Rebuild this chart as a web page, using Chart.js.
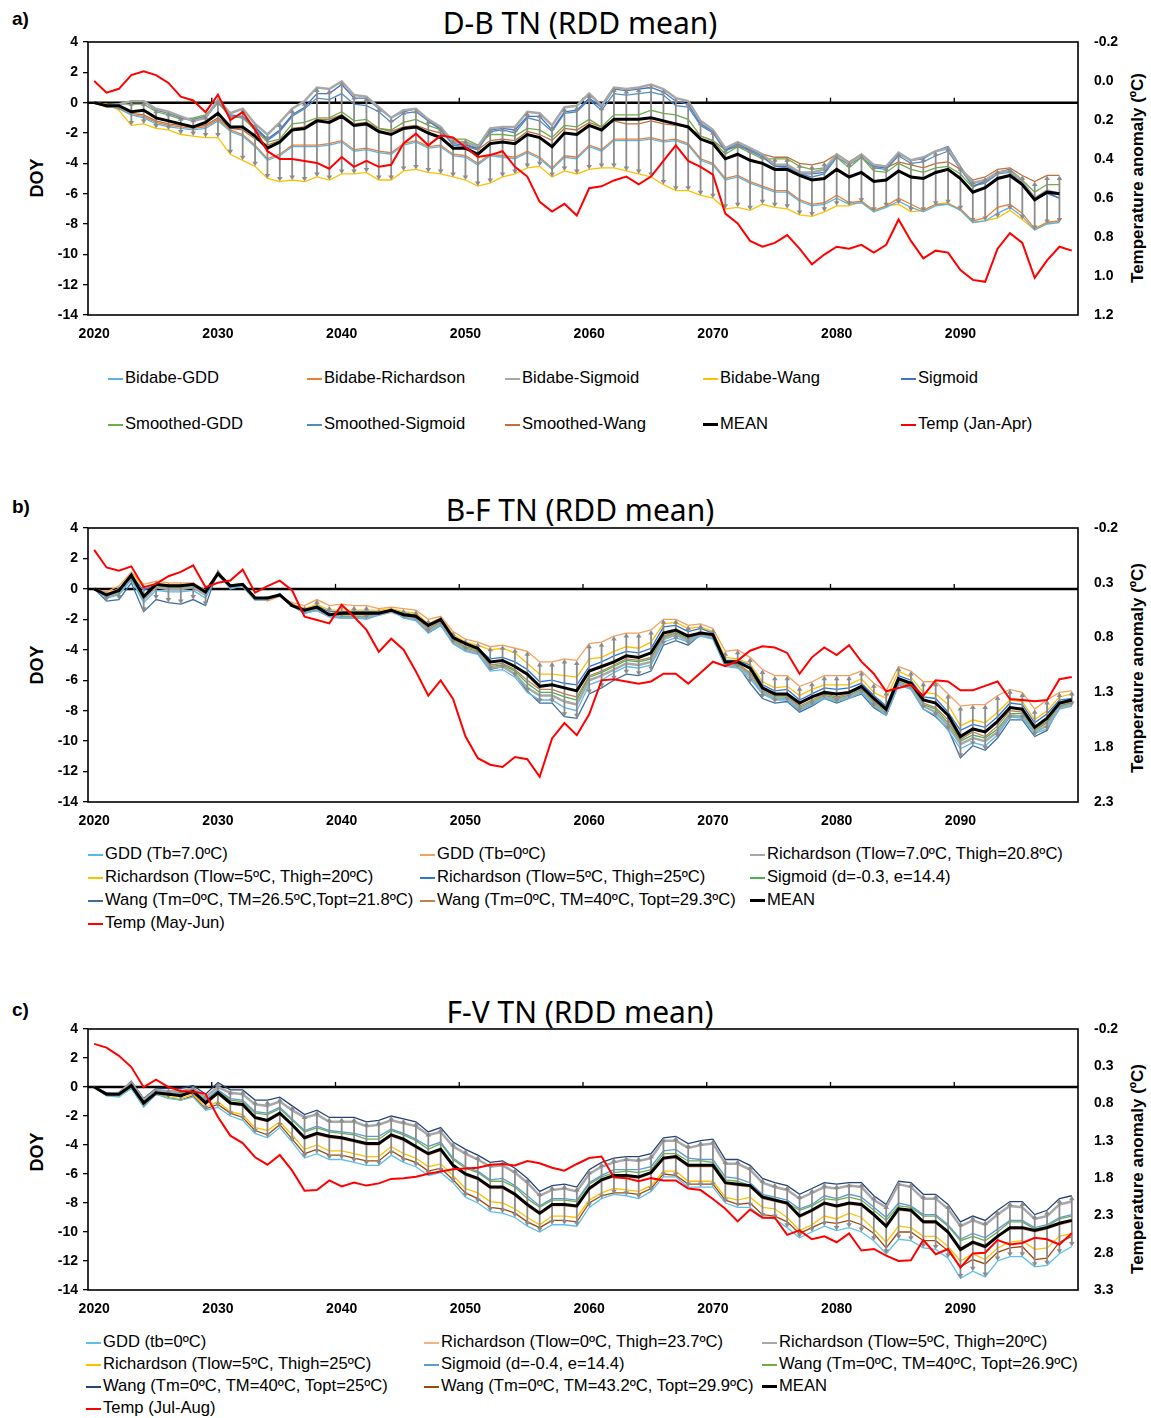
<!DOCTYPE html>
<html>
<head>
<meta charset="utf-8">
<title>RDD mean</title>
<script src="https://cdn.jsdelivr.net/npm/chart.js@4.4.1/dist/chart.umd.min.js"></script>
<style>
  body { margin: 0; background: #fff; }
  #page { position: relative; width: 1151px; height: 1418px; overflow: hidden; font-family: "Liberation Sans", Arial, sans-serif; color: #000; }
  canvas { position: absolute; left: 40px; }
  .tag { position: absolute; left: 12px; font-weight: bold; font-size: 19px; }
  .title { position: absolute; left: 280px; width: 600px; text-align: center; font-family: "Noto Sans", sans-serif; font-size: 30px; line-height: 34px; }
  .rot { position: absolute; white-space: nowrap; font-weight: bold; transform: translate(-50%, -50%) rotate(-90deg); }
  .doy { font-size: 18px; }
  .tmp { font-size: 17px; }
  .leg { position: absolute; white-space: nowrap; font-size: 16.6px; line-height: 18px; transform: translateY(-50%); }
  .leg i { display: inline-block; width: 15px; height: 2px; vertical-align: middle; margin-right: 2px; }
</style>
</head>
<body>
<div id="page">
  <div class="tag" style="top:8px">a)</div>
  <div class="title" style="top:6px">D-B TN (RDD mean)</div>
  <div class="rot doy" style="left:37px;top:178px">DOY</div>
  <div class="rot tmp" style="left:1138px;top:178px">Temperature anomaly (ºC)</div>
  <canvas id="chartA" width="1090" height="329" style="top:16px"></canvas>

  <div class="tag" style="top:496px">b)</div>
  <div class="title" style="top:493px">B-F TN (RDD mean)</div>
  <div class="rot doy" style="left:37px;top:665px">DOY</div>
  <div class="rot tmp" style="left:1138px;top:668px">Temperature anomaly (ºC)</div>
  <canvas id="chartB" width="1090" height="330" style="top:502px"></canvas>

  <div class="tag" style="top:999px">c)</div>
  <div class="title" style="top:995px">F-V TN (RDD mean)</div>
  <div class="rot doy" style="left:37px;top:1152px">DOY</div>
  <div class="rot tmp" style="left:1138px;top:1169px">Temperature anomaly (ºC)</div>
  <canvas id="chartC" width="1090" height="317" style="top:1003px"></canvas>
</div>

<script>
'use strict';

const years = [
  2020, 2021, 2022, 2023, 2024, 2025, 2026, 2027, 2028, 2029,
  2030, 2031, 2032, 2033, 2034, 2035, 2036, 2037, 2038, 2039,
  2040, 2041, 2042, 2043, 2044, 2045, 2046, 2047, 2048, 2049,
  2050, 2051, 2052, 2053, 2054, 2055, 2056, 2057, 2058, 2059,
  2060, 2061, 2062, 2063, 2064, 2065, 2066, 2067, 2068, 2069,
  2070, 2071, 2072, 2073, 2074, 2075, 2076, 2077, 2078, 2079,
  2080, 2081, 2082, 2083, 2084, 2085, 2086, 2087, 2088, 2089,
  2090, 2091, 2092, 2093, 2094, 2095, 2096, 2097, 2098, 2099
];

// Left axis (DOY) and right axes (temperature anomaly, reversed): min, max, step
const doyTicks = [-14, 4, 2];
const aTempTicks = [-0.2, 1.2, 0.2];
const bTempTicks = [-0.2, 2.3, 0.5];
const cTempTicks = [-0.2, 3.3, 0.5];

// ---- a) D-B TN ----
const aBidabeGDD = [
  0, -0.2, -0.4, -0.8, -1.0, -1.4, -1.6, -1.7, -1.8, -1.7,
  -1.2, -1.9, -2.2, -2.9, -3.8, -3.5, -2.9, -2.9, -2.9, -2.8,
  -2.6, -3.2, -3.1, -3.3, -3.4, -2.8, -2.6, -3.0, -2.9, -3.5,
  -3.6, -4.1, -3.5, -3.6, -3.7, -3.3, -3.7, -4.4, -3.6, -3.7,
  -2.9, -3.2, -2.5, -2.5, -2.5, -2.4, -2.6, -2.5, -2.8, -3.8,
  -4.1, -5.1, -4.9, -5.3, -5.6, -5.9, -5.9, -6.5, -6.8, -6.7,
  -6.3, -6.7, -6.6, -7.2, -6.9, -6.5, -6.9, -7.2, -6.8, -6.7,
  -7.1, -7.9, -7.8, -7.3, -6.9, -7.5, -8.4, -8.0, -7.9, null
];
const aBidabeRichardson = [
  0, -0.2, -0.4, -0.8, -0.9, -1.3, -1.5, -1.6, -1.7, -1.6,
  -1.1, -1.8, -2.1, -2.8, -3.7, -3.4, -2.8, -2.8, -2.8, -2.7,
  -2.5, -3.1, -3.0, -3.2, -3.3, -2.7, -2.5, -2.9, -2.8, -3.4,
  -3.5, -4.0, -3.4, -3.5, -3.6, -3.2, -3.6, -4.3, -3.5, -3.6,
  -2.8, -3.1, -2.4, -2.4, -2.4, -2.3, -2.5, -2.4, -2.7, -3.7,
  -4.0, -5.0, -4.8, -5.2, -5.5, -5.8, -5.8, -6.4, -6.7, -6.6,
  -6.1, -6.6, -6.5, -7.1, -6.8, -6.3, -6.7, -7.1, -6.7, -6.7,
  -7.0, -7.8, -7.6, -6.9, -6.7, -7.3, -8.3, -7.9, -7.8, null
];
const aBidabeSigmoid = [
  0, -0.2, -0.1, 0.1, 0.1, -0.4, -0.6, -0.9, -1.2, -1.0,
  0.2, -0.7, -0.4, -1.4, -2.1, -1.3, -0.4, 0.1, 1.0, 0.9,
  1.4, 0.5, 0.4, -0.3, -1.0, -0.5, -0.4, -1.1, -1.6, -2.6,
  -2.6, -2.9, -1.7, -1.6, -1.6, -0.6, -0.7, -1.5, -0.3, -0.2,
  0.6, -0.2, 1.0, 0.9, 1.0, 1.2, 0.9, 0.3, 0.1, -1.2,
  -1.8, -3.0, -2.6, -3.0, -3.4, -4.1, -4.1, -4.6, -4.6, -4.4,
  -3.4, -4.0, -3.4, -4.1, -4.2, -3.3, -3.8, -3.6, -3.2, -3.0,
  -4.3, -5.3, -5.1, -4.6, -4.5, -5.2, -6.3, -5.8, -6.0, null
];
const aBidabeWang = [
  0, -0.1, -0.5, -1.5, -1.4, -1.7, -1.8, -2.1, -2.2, -2.3,
  -2.3, -3.4, -3.8, -4.2, -5.0, -5.2, -5.1, -5.2, -4.9, -5.1,
  -4.7, -4.7, -4.6, -5.1, -5.1, -4.5, -4.4, -4.6, -4.7, -4.9,
  -5.1, -5.5, -5.3, -4.9, -4.7, -4.3, -4.2, -4.9, -4.5, -4.7,
  -4.4, -4.3, -4.3, -4.5, -4.7, -4.9, -5.4, -5.8, -5.8, -6.1,
  -6.3, -7.0, -6.9, -7.1, -6.7, -6.9, -7.0, -7.4, -7.5, -7.2,
  -6.8, -6.8, -6.5, -7.2, -6.8, -6.7, -7.2, -7.1, -6.7, -6.6,
  -7.1, -7.9, -7.8, -7.6, -7.1, -7.7, -8.4, -7.9, -7.8, null
];
const aSigmoid = [
  0, -0.2, -0.1, 0.1, 0.1, -0.5, -0.6, -1.0, -1.1, -0.9,
  0.1, -0.8, -0.9, -1.6, -2.4, -1.8, -0.8, -0.3, 0.6, 0.6,
  1.2, 0.3, 0.3, -0.4, -1.0, -0.6, -0.4, -1.2, -1.7, -2.7,
  -2.8, -3.0, -1.8, -1.7, -1.8, -0.9, -0.9, -1.8, -0.6, -0.5,
  0.3, -0.3, 0.9, 0.8, 0.9, 1.0, 0.7, 0.1, -0.1, -1.4,
  -1.9, -3.1, -2.7, -3.1, -3.5, -4.2, -4.2, -4.7, -4.7, -4.6,
  -3.4, -4.0, -3.4, -4.2, -4.3, -3.4, -3.8, -3.7, -3.2, -2.9,
  -4.2, -5.5, -5.2, -4.6, -4.4, -5.2, -6.3, -5.9, -6.3, null
];
const aSmoothedGDD = [
  0, -0.1, -0.1, -0.1, -0.1, -0.6, -0.8, -1.1, -1.0, -0.8,
  0.0, -0.9, -1.0, -1.8, -2.6, -2.4, -1.4, -1.3, -1.0, -1.0,
  -0.6, -1.2, -1.1, -1.7, -1.8, -1.3, -1.1, -1.5, -1.8, -2.4,
  -2.4, -2.8, -2.1, -2.1, -2.2, -1.7, -1.8, -2.3, -1.5, -1.6,
  -1.1, -1.6, -0.8, -0.8, -0.8, -0.5, -0.7, -0.8, -1.1, -2.2,
  -2.5, -3.4, -2.9, -3.3, -3.7, -3.7, -3.7, -4.2, -4.4, -4.3,
  -3.6, -4.3, -3.6, -4.5, -4.6, -4.0, -4.4, -4.6, -4.3, -4.2,
  -4.7, -5.6, -5.1, -4.6, -4.4, -5.1, -5.9, -5.4, -5.4, null
];
const aSmoothedSigmoid = [
  0, -0.2, -0.1, 0.1, 0.1, -0.5, -0.7, -1.0, -1.2, -1.0,
  0.0, -0.9, -1.0, -1.7, -2.5, -1.9, -0.9, -0.4, 0.3, 0.2,
  0.6, -0.1, -0.2, -0.6, -1.3, -0.7, -0.6, -1.2, -1.8, -2.8,
  -2.9, -3.1, -1.9, -1.8, -2.0, -1.0, -1.2, -1.9, -0.7, -0.6,
  0.2, -0.5, 0.6, 0.5, 0.6, 0.7, 0.5, -0.2, -0.3, -1.5,
  -2.0, -3.2, -2.8, -3.2, -3.6, -4.2, -4.3, -4.7, -4.9, -4.7,
  -3.6, -4.1, -3.6, -4.3, -4.4, -3.5, -4.0, -3.9, -3.5, -3.2,
  -4.4, -5.5, -5.3, -4.7, -4.6, -5.3, -6.4, -6.0, -6.3, null
];
const aSmoothedWang = [
  0, -0.3, -0.3, -0.7, -0.8, -1.2, -1.4, -1.5, -1.6, -1.5,
  -1.0, -1.7, -1.8, -2.4, -2.8, -2.5, -1.7, -1.6, -1.1, -1.1,
  -0.8, -1.4, -1.3, -1.7, -1.9, -1.6, -1.5, -1.8, -2.0, -2.5,
  -2.7, -3.1, -2.5, -2.4, -2.5, -1.9, -2.1, -2.5, -1.7, -1.8,
  -1.3, -1.6, -1.2, -1.4, -1.4, -1.2, -1.4, -1.5, -1.6, -2.2,
  -2.5, -3.1, -2.9, -3.1, -3.4, -3.6, -3.6, -4.0, -4.1, -3.9,
  -3.4, -3.9, -3.4, -4.2, -4.3, -3.9, -4.1, -4.3, -4.0, -3.9,
  -4.4, -5.1, -4.9, -4.4, -4.3, -4.8, -5.2, -4.8, -4.8, null
];
const aMean = [
  0, -0.2, -0.2, -0.6, -0.5, -1.0, -1.2, -1.4, -1.6, -1.3,
  -0.7, -1.6, -1.6, -2.2, -3.0, -2.6, -1.8, -1.7, -1.2, -1.3,
  -0.9, -1.5, -1.4, -1.9, -2.1, -1.7, -1.6, -2.0, -2.3, -3.0,
  -3.0, -3.4, -2.7, -2.6, -2.7, -2.1, -2.3, -2.9, -2.0, -2.1,
  -1.5, -1.8, -1.1, -1.1, -1.1, -1.0, -1.2, -1.4, -1.6, -2.4,
  -2.7, -3.7, -3.4, -3.8, -4.0, -4.4, -4.4, -4.8, -5.1, -5.0,
  -4.4, -4.9, -4.6, -5.2, -5.1, -4.5, -4.9, -5.0, -4.6, -4.4,
  -5.0, -5.9, -5.6, -5.0, -4.8, -5.4, -6.4, -5.9, -6.0, null
];
const aTemp = [
  0.00, 0.06, 0.04, -0.03, -0.05, -0.03, 0.01, 0.08, 0.10, 0.16,
  0.07, 0.20, 0.16, 0.25, 0.36, 0.40, 0.40, 0.41, 0.42, 0.45,
  0.39, 0.44, 0.41, 0.44, 0.43, 0.32, 0.27, 0.33, 0.28, 0.29,
  0.34, 0.39, 0.38, 0.36, 0.44, 0.49, 0.62, 0.67, 0.63, 0.69,
  0.55, 0.54, 0.51, 0.49, 0.53, 0.49, 0.41, 0.33, 0.41, 0.44,
  0.48, 0.68, 0.73, 0.82, 0.85, 0.83, 0.79, 0.86, 0.94, 0.89,
  0.85, 0.86, 0.84, 0.88, 0.84, 0.71, 0.82, 0.91, 0.87, 0.88,
  0.97, 1.02, 1.03, 0.86, 0.78, 0.83, 1.01, 0.92, 0.85, 0.87
];

// ---- b) B-F TN ----
const bGDD7 = [
  0, -0.6, -0.4, 0.6, -0.9, -0.1, -0.2, -0.2, -0.1, -0.6,
  1.0, 0.0, 0.2, -0.7, -0.7, -0.3, -1.1, -1.6, -1.4, -1.8,
  -1.9, -1.9, -2.0, -1.7, -1.4, -1.9, -2.1, -2.9, -2.4, -3.6,
  -4.1, -4.3, -5.4, -5.3, -5.8, -6.8, -7.3, -7.3, -7.8, -8.0,
  -6.3, -6.0, -5.5, -5.1, -5.2, -5.0, -3.5, -3.2, -3.5, -3.1,
  -3.3, -5.1, -5.2, -5.9, -6.9, -7.3, -7.3, -8.0, -7.6, -7.2,
  -7.4, -7.2, -6.8, -7.7, -8.3, -6.3, -6.6, -7.9, -8.3, -9.3,
  -10.5, -10.1, -10.3, -9.6, -8.4, -8.5, -9.5, -9.2, -7.9, -7.7
];
const bGDD0 = [
  0, -0.2, 0.2, 1.1, 0.3, 0.5, 0.4, 0.4, 0.4, -0.1,
  1.1, 0.2, 0.3, -0.5, -0.8, -0.5, -0.9, -1.1, -0.7, -1.1,
  -1.0, -1.1, -1.1, -1.3, -1.2, -1.3, -1.4, -2.0, -1.8, -2.8,
  -3.3, -3.5, -3.8, -3.7, -3.9, -4.1, -4.8, -4.8, -4.6, -4.7,
  -3.6, -3.5, -3.1, -2.9, -2.9, -2.7, -2.0, -2.0, -2.4, -2.3,
  -2.6, -4.1, -4.0, -4.5, -5.3, -5.7, -5.7, -6.4, -6.1, -5.7,
  -5.7, -5.7, -5.4, -6.2, -6.7, -5.1, -5.4, -6.1, -6.1, -6.9,
  -7.7, -7.6, -7.6, -7.0, -6.6, -6.8, -7.9, -7.3, -6.8, -6.7
];
const bRich7 = [
  0, -0.5, -0.3, 0.7, -0.7, 0.1, 0.0, 0.0, 0.1, -0.4,
  1.0, 0.1, 0.2, -0.7, -0.7, -0.4, -1.1, -1.5, -1.4, -1.8,
  -1.9, -1.9, -1.9, -1.7, -1.5, -1.8, -2.0, -2.8, -2.3, -3.5,
  -4.0, -4.2, -5.2, -5.1, -5.6, -6.5, -7.0, -7.0, -7.4, -7.6,
  -6.0, -5.7, -5.3, -4.9, -5.0, -4.8, -3.3, -3.0, -3.4, -3.0,
  -3.2, -5.0, -5.1, -5.7, -6.8, -7.2, -7.2, -7.9, -7.5, -7.1,
  -7.3, -7.1, -6.7, -7.6, -8.2, -6.2, -6.5, -7.7, -8.1, -9.0,
  -10.2, -9.8, -10.0, -9.4, -8.3, -8.4, -9.4, -9.0, -7.8, -7.6
];
const bRich520 = [
  0, -0.3, 0.0, 1.0, 0.1, 0.3, 0.3, 0.3, 0.3, -0.1,
  1.0, 0.1, 0.3, -0.6, -0.7, -0.4, -1.0, -1.3, -1.0, -1.4,
  -1.4, -1.4, -1.4, -1.4, -1.3, -1.5, -1.6, -2.3, -1.9, -3.0,
  -3.5, -3.7, -4.0, -3.9, -4.2, -4.9, -5.6, -5.6, -5.7, -5.8,
  -4.6, -4.5, -4.1, -3.8, -3.9, -3.5, -2.3, -2.2, -2.6, -2.5,
  -2.8, -4.5, -4.6, -4.9, -6.1, -6.5, -6.4, -7.0, -6.6, -6.3,
  -6.3, -6.3, -5.9, -6.8, -7.2, -5.4, -5.8, -6.8, -6.9, -7.6,
  -9.0, -8.6, -8.8, -8.1, -7.3, -7.4, -8.6, -8.0, -7.1, -6.9
];
const bRich525 = [
  0, -0.3, -0.1, 0.9, -0.1, 0.3, 0.2, 0.2, 0.3, -0.2,
  1.0, 0.1, 0.2, -0.6, -0.6, -0.4, -1.0, -1.4, -1.1, -1.5,
  -1.5, -1.5, -1.5, -1.5, -1.4, -1.6, -1.7, -2.4, -2.0, -3.1,
  -3.6, -3.9, -4.6, -4.5, -4.8, -5.3, -6.1, -6.0, -6.2, -6.3,
  -5.1, -4.8, -4.4, -4.1, -4.2, -3.9, -2.5, -2.4, -2.8, -2.6,
  -2.9, -4.7, -4.7, -5.0, -6.3, -6.7, -6.6, -7.3, -6.9, -6.5,
  -6.6, -6.5, -6.2, -7.0, -7.7, -5.7, -6.0, -7.1, -7.2, -8.1,
  -9.3, -8.9, -9.1, -8.4, -7.5, -7.6, -8.8, -8.2, -7.3, -7.2
];
const bSigmoid = [
  0, -0.4, -0.2, 0.8, -0.6, 0.2, 0.1, 0.1, 0.2, -0.3,
  1.0, 0.1, 0.2, -0.6, -0.6, -0.4, -1.1, -1.5, -1.4, -1.8,
  -1.8, -1.8, -1.8, -1.7, -1.5, -1.8, -2.0, -2.7, -2.2, -3.4,
  -3.9, -4.1, -5.1, -5.0, -5.4, -6.2, -6.8, -6.8, -7.1, -7.3,
  -5.8, -5.5, -5.1, -4.7, -4.8, -4.6, -3.2, -2.9, -3.3, -3.0,
  -3.2, -5.0, -5.0, -5.6, -6.7, -7.1, -7.1, -7.8, -7.4, -7.0,
  -7.2, -7.0, -6.6, -7.5, -8.1, -6.1, -6.4, -7.6, -7.9, -8.8,
  -10.0, -9.6, -9.8, -9.2, -8.2, -8.2, -9.3, -8.8, -7.7, -7.5
];
const bWang265 = [
  0, -0.8, -0.7, 0.4, -1.5, -0.7, -0.9, -1.0, -0.7, -1.1,
  1.2, 0.0, 0.2, -0.7, -0.7, -0.3, -1.1, -1.6, -1.4, -1.8,
  -1.9, -1.9, -1.9, -1.7, -1.3, -1.9, -2.0, -2.9, -2.4, -3.5,
  -4.0, -4.2, -5.3, -5.1, -5.6, -6.7, -7.5, -7.5, -8.4, -8.5,
  -6.9, -6.5, -6.0, -5.6, -5.7, -5.4, -3.7, -3.4, -3.7, -3.0,
  -3.2, -5.0, -5.0, -6.2, -7.2, -7.5, -7.4, -8.1, -7.7, -7.2,
  -7.5, -7.2, -6.9, -7.8, -8.3, -6.3, -6.5, -7.9, -8.4, -9.2,
  -11.1, -10.3, -10.6, -9.8, -8.6, -8.6, -9.7, -9.3, -7.7, -7.5
];
const bWang40 = [
  0, -0.4, -0.2, 0.8, -0.6, 0.2, 0.1, 0.1, 0.2, -0.3,
  1.0, 0.1, 0.2, -0.6, -0.6, -0.4, -1.1, -1.5, -1.3, -1.7,
  -1.7, -1.7, -1.7, -1.6, -1.5, -1.8, -1.9, -2.6, -2.1, -3.3,
  -3.8, -4.0, -5.0, -4.9, -5.3, -6.0, -6.6, -6.6, -6.9, -7.1,
  -5.7, -5.4, -5.0, -4.6, -4.7, -4.5, -3.1, -2.8, -3.2, -2.9,
  -3.1, -4.9, -4.9, -5.5, -6.6, -7.0, -7.0, -7.7, -7.3, -6.9,
  -7.1, -6.9, -6.5, -7.4, -8.0, -6.0, -6.3, -7.5, -7.8, -8.6,
  -9.9, -9.4, -9.7, -9.0, -8.0, -8.1, -9.2, -8.7, -7.6, -7.4
];
const bMean = [
  0, -0.4, -0.1, 0.9, -0.5, 0.3, 0.2, 0.2, 0.3, -0.2,
  1.0, 0.2, 0.3, -0.6, -0.6, -0.4, -1.1, -1.4, -1.2, -1.7,
  -1.6, -1.6, -1.6, -1.6, -1.4, -1.7, -1.8, -2.4, -2.0, -3.2,
  -3.6, -3.9, -4.8, -4.7, -5.1, -5.6, -6.4, -6.3, -6.5, -6.7,
  -5.4, -5.1, -4.8, -4.4, -4.5, -4.2, -2.9, -2.7, -3.1, -2.9,
  -3.0, -4.8, -4.8, -5.2, -6.5, -6.9, -6.9, -7.5, -7.1, -6.8,
  -6.9, -6.8, -6.4, -7.2, -7.9, -5.9, -6.2, -7.3, -7.5, -8.3,
  -9.7, -9.2, -9.4, -8.7, -7.8, -7.9, -9.1, -8.5, -7.5, -7.3
];
const bTemp = [
  0.00, 0.16, 0.19, 0.15, 0.34, 0.31, 0.24, 0.20, 0.14, 0.34,
  0.30, 0.28, 0.18, 0.39, 0.33, 0.28, 0.37, 0.61, 0.64, 0.67,
  0.50, 0.61, 0.73, 0.93, 0.81, 0.91, 1.11, 1.33, 1.19, 1.36,
  1.70, 1.90, 1.96, 1.98, 1.89, 1.91, 2.07, 1.72, 1.58, 1.69,
  1.50, 1.19, 1.18, 1.20, 1.22, 1.20, 1.13, 1.13, 1.22, 1.12,
  1.02, 1.06, 1.01, 0.92, 0.88, 0.89, 0.94, 1.13, 0.98, 0.89,
  0.96, 0.87, 1.02, 1.13, 1.29, 1.26, 1.23, 1.33, 1.19, 1.20,
  1.28, 1.28, 1.24, 1.20, 1.36, 1.37, 1.38, 1.37, 1.18, 1.16
];

// ---- c) F-V TN ----
const cGDD0 = [
  0, -0.6, -0.7, -0.1, -1.4, -0.5, -0.8, -0.9, -0.7, -1.6,
  -1.4, -2.0, -2.3, -3.2, -3.5, -2.8, -3.8, -4.9, -4.6, -5.0,
  -5.0, -5.2, -5.4, -5.4, -4.7, -5.2, -5.5, -6.1, -5.9, -6.6,
  -7.6, -8.0, -8.6, -8.7, -9.0, -9.6, -10.0, -9.5, -9.5, -9.6,
  -8.3, -7.7, -7.4, -7.5, -7.7, -7.2, -6.2, -6.2, -6.9, -6.9,
  -6.9, -8.0, -8.3, -8.3, -9.0, -9.1, -9.7, -10.4, -10.0, -9.6,
  -9.9, -9.7, -10.0, -10.6, -11.5, -10.5, -10.6, -11.1, -11.2, -11.8,
  -13.2, -12.7, -13.1, -12.0, -11.7, -11.7, -12.4, -12.3, -11.5, -11.0
];
const cRich0 = [
  0, -0.5, -0.6, 0.0, -1.1, -0.4, -0.5, -0.6, -0.4, -1.2,
  -0.5, -1.2, -1.3, -2.2, -2.4, -1.9, -2.7, -3.6, -3.3, -3.5,
  -3.6, -3.8, -4.0, -4.0, -3.4, -3.7, -4.2, -4.7, -4.4, -5.5,
  -6.1, -6.4, -7.0, -7.0, -7.5, -8.2, -8.8, -8.2, -8.2, -8.3,
  -7.1, -6.5, -6.2, -6.2, -6.3, -6.0, -5.0, -4.9, -5.5, -5.5,
  -5.5, -6.7, -6.8, -6.9, -7.7, -7.9, -8.1, -9.0, -8.6, -8.1,
  -8.3, -8.1, -8.2, -8.9, -9.6, -8.5, -8.6, -9.4, -9.4, -10.0,
  -11.3, -10.8, -11.1, -10.3, -9.8, -9.8, -10.0, -9.8, -9.5, -9.3
];
const cRich520 = [
  0, -0.5, -0.4, 0.3, -0.9, -0.2, -0.3, -0.3, -0.1, -0.7,
  0.0, -0.4, -0.5, -1.2, -1.3, -1.0, -1.6, -2.1, -1.9, -2.4,
  -2.4, -2.4, -2.7, -2.6, -2.3, -2.5, -2.7, -3.3, -3.1, -4.1,
  -4.6, -5.0, -5.5, -5.4, -5.9, -6.6, -7.5, -7.1, -7.0, -7.2,
  -6.0, -5.5, -5.2, -5.0, -5.1, -4.9, -3.7, -3.7, -4.2, -4.0,
  -3.9, -5.3, -5.3, -5.7, -6.6, -6.9, -7.1, -7.7, -7.3, -6.9,
  -7.0, -6.8, -6.9, -7.8, -8.3, -6.7, -6.9, -7.7, -7.7, -8.4,
  -9.6, -9.2, -9.5, -8.8, -8.2, -8.3, -9.1, -8.9, -8.1, -7.9
];
const cRich525 = [
  0, -0.6, -0.6, 0.0, -1.3, -0.5, -0.7, -0.8, -0.5, -1.4,
  -1.0, -1.7, -1.9, -2.8, -3.0, -2.4, -3.3, -4.3, -4.0, -4.4,
  -4.4, -4.6, -4.8, -4.8, -4.1, -4.6, -4.9, -5.5, -5.3, -6.1,
  -7.0, -7.3, -7.9, -8.0, -8.4, -9.0, -9.5, -8.9, -8.9, -9.0,
  -7.8, -7.3, -7.0, -7.1, -7.2, -6.8, -5.8, -5.8, -6.5, -6.5,
  -6.5, -7.6, -7.8, -7.6, -8.3, -8.4, -9.0, -9.9, -9.5, -8.9,
  -9.1, -8.7, -9.0, -9.8, -10.7, -9.6, -9.7, -10.3, -10.3, -11.0,
  -12.0, -11.5, -11.9, -11.1, -10.7, -10.6, -11.2, -11.1, -10.3, -10.1
];
const cSigmoid = [
  0, -0.5, -0.5, 0.2, -1.0, -0.3, -0.4, -0.4, -0.2, -0.9,
  -0.2, -0.8, -0.9, -1.7, -1.8, -1.4, -2.2, -3.0, -2.7, -3.0,
  -3.1, -3.2, -3.4, -3.4, -2.9, -3.2, -3.6, -4.1, -3.8, -4.9,
  -5.5, -5.8, -6.4, -6.3, -6.8, -7.5, -8.2, -7.7, -7.7, -7.8,
  -6.6, -6.1, -5.7, -5.7, -5.7, -5.5, -4.4, -4.3, -4.9, -5.0,
  -5.0, -6.2, -6.3, -6.6, -7.4, -7.6, -7.8, -8.4, -8.1, -7.5,
  -7.7, -7.4, -7.6, -8.3, -9.0, -8.0, -8.2, -8.8, -8.8, -9.5,
  -10.5, -10.1, -10.4, -9.8, -9.2, -9.2, -9.7, -9.5, -9.0, -8.8
];
const cWang269 = [
  0, -0.5, -0.5, 0.2, -1.0, -0.3, -0.4, -0.5, -0.2, -1.0,
  -0.3, -0.9, -1.0, -1.8, -1.9, -1.5, -2.3, -3.1, -2.8, -3.1,
  -3.2, -3.3, -3.6, -3.6, -3.0, -3.3, -3.7, -4.3, -3.9, -5.0,
  -5.6, -5.9, -6.5, -6.5, -6.9, -7.7, -8.3, -7.8, -7.8, -7.9,
  -6.7, -6.2, -5.9, -5.8, -5.9, -5.7, -4.6, -4.6, -5.1, -5.1,
  -5.2, -6.4, -6.5, -6.8, -7.5, -7.7, -8.0, -8.5, -8.2, -7.7,
  -7.8, -7.6, -7.8, -8.5, -9.2, -8.2, -8.3, -8.9, -8.9, -9.6,
  -10.6, -10.3, -10.6, -10.0, -9.3, -9.3, -9.8, -9.6, -9.1, -8.9
];
const cWang25 = [
  0, -0.4, -0.4, 0.4, -0.8, -0.1, -0.1, -0.1, 0.1, -0.5,
  0.3, -0.2, -0.2, -0.9, -0.9, -0.7, -1.3, -1.9, -1.6, -2.1,
  -2.1, -2.1, -2.4, -2.3, -2.0, -2.2, -2.4, -3.1, -2.8, -3.8,
  -4.3, -4.7, -5.2, -5.1, -5.6, -6.3, -7.2, -6.8, -6.7, -6.9,
  -5.7, -5.2, -4.9, -4.8, -4.8, -4.6, -3.5, -3.4, -3.9, -3.7,
  -3.6, -5.0, -5.0, -5.4, -6.3, -6.6, -6.8, -7.4, -7.0, -6.6,
  -6.7, -6.6, -6.6, -7.5, -8.1, -6.5, -6.6, -7.4, -7.4, -8.1,
  -9.3, -8.9, -9.2, -8.5, -7.9, -7.9, -8.8, -8.5, -7.7, -7.5
];
const cWang432 = [
  0, -0.6, -0.6, -0.1, -1.3, -0.5, -0.7, -0.9, -0.6, -1.5,
  -1.2, -1.8, -2.1, -3.0, -3.3, -2.6, -3.6, -4.6, -4.3, -4.7,
  -4.7, -4.9, -5.1, -5.1, -4.4, -4.9, -5.2, -5.8, -5.6, -6.4,
  -7.3, -7.7, -8.3, -8.4, -8.7, -9.3, -9.7, -9.2, -9.2, -9.3,
  -8.0, -7.5, -7.3, -7.3, -7.4, -7.0, -6.0, -6.1, -6.7, -6.7,
  -6.7, -7.8, -8.1, -8.0, -8.8, -8.9, -9.3, -10.1, -9.7, -9.3,
  -9.4, -9.2, -9.5, -10.1, -11.1, -10.0, -10.0, -10.6, -10.6, -11.3,
  -12.4, -11.9, -12.2, -11.4, -11.1, -11.0, -11.9, -11.8, -10.7, -10.3
];
const cMean = [
  0, -0.5, -0.5, 0.1, -1.1, -0.4, -0.5, -0.6, -0.3, -1.1,
  -0.4, -1.1, -1.2, -2.1, -2.3, -1.8, -2.6, -3.5, -3.2, -3.4,
  -3.5, -3.7, -3.9, -3.9, -3.3, -3.6, -4.1, -4.6, -4.3, -5.4,
  -6.0, -6.3, -6.9, -6.9, -7.4, -8.1, -8.7, -8.1, -8.1, -8.2,
  -7.0, -6.4, -6.1, -6.1, -6.2, -5.9, -4.9, -4.8, -5.4, -5.4,
  -5.4, -6.6, -6.7, -6.8, -7.6, -7.8, -8.0, -8.9, -8.5, -8.0,
  -8.2, -8.0, -8.1, -8.8, -9.6, -8.4, -8.5, -9.3, -9.3, -10.0,
  -11.2, -10.7, -11.0, -10.3, -9.7, -9.7, -9.9, -9.7, -9.4, -9.2
];
const cTemp = [
  0.00, 0.05, 0.16, 0.31, 0.58, 0.48, 0.58, 0.63, 0.64, 0.67,
  0.98, 1.23, 1.33, 1.52, 1.62, 1.49, 1.70, 1.97, 1.96, 1.83,
  1.91, 1.86, 1.90, 1.87, 1.81, 1.80, 1.78, 1.74, 1.71, 1.68,
  1.67, 1.66, 1.62, 1.61, 1.63, 1.57, 1.60, 1.66, 1.70, 1.61,
  1.53, 1.51, 1.79, 1.80, 1.84, 1.80, 1.83, 1.83, 1.94, 1.96,
  2.08, 2.21, 2.38, 2.22, 2.33, 2.33, 2.56, 2.50, 2.62, 2.58,
  2.66, 2.54, 2.77, 2.75, 2.84, 2.91, 2.90, 2.63, 2.82, 2.75,
  3.00, 2.81, 2.80, 2.63, 2.69, 2.67, 2.60, 2.62, 2.69, 2.54
];

Chart.defaults.font.family = '"Liberation Sans", Arial, sans-serif';
Chart.defaults.color = '#000';

/**
 * One model series (thin line, part of the model spread)
 */
function model(label, data, color, width) {
	return {
		label: label, data: data, borderColor: color, backgroundColor: color,
		borderWidth: width || 1.3, pointRadius: 0, tension: 0, yAxisID: 'y', order: 3, model: true
	};
}

function meanLine(data) {
	return {
		label: 'MEAN', data: data, borderColor: '#000', backgroundColor: '#000',
		borderWidth: 3, pointRadius: 0, tension: 0, yAxisID: 'y', order: 1, isMean: true
	};
}

function tempLine(label, data) {
	return {
		label: label, data: data, borderColor: '#ff0000', backgroundColor: '#ff0000',
		borderWidth: 2, pointRadius: 0, tension: 0, yAxisID: 'y1', order: 0
	};
}

function arrowHead(ctx, x, y, dir) {
	ctx.beginPath();
	ctx.moveTo(x, y);
	ctx.lineTo(x - 2.8, y - dir * 4.5);
	ctx.lineTo(x + 2.8, y - dir * 4.5);
	ctx.closePath();
	ctx.fill();
}

// Error-bar arrows from the MEAN up to the highest model and down to the lowest one
const spreadArrows = {
	id: 'spreadArrows',
	beforeDatasetDraw: function (chart, args) {
		const meanSet = chart.data.datasets[args.index];
		if ( ! meanSet.isMean) {
			return;
		}
		const ctx = chart.ctx;
		const x = chart.scales.x;
		const y = chart.scales.y;
		const models = chart.data.datasets.filter(d => d.model);
		ctx.save();
		ctx.strokeStyle = '#8c8c8c';
		ctx.fillStyle = '#8c8c8c';
		ctx.lineWidth = 1.8;
		for (let i = 0; i < chart.data.labels.length; i++) {
			const m = meanSet.data[i];
			const vals = models.map(d => d.data[i]).filter(v => v !== null && v !== undefined);
			if (m === null || m === undefined || ! vals.length) {
				continue;
			}
			const px = x.getPixelForValue(i);
			const ym = y.getPixelForValue(m);
			const yt = y.getPixelForValue(Math.max.apply(null, vals));
			const yb = y.getPixelForValue(Math.min.apply(null, vals));
			if (ym - yt >= 3) {
				ctx.beginPath();
				ctx.moveTo(px, ym);
				ctx.lineTo(px, yt + 3);
				ctx.stroke();
				arrowHead(ctx, px, yt, -1);
			}
			if (yb - ym >= 3) {
				ctx.beginPath();
				ctx.moveTo(px, ym);
				ctx.lineTo(px, yb - 3);
				ctx.stroke();
				arrowHead(ctx, px, yb, 1);
			}
		}
		ctx.restore();
	}
};

// Zero line with its ticks, and the plot frame
const plotFrame = {
	id: 'plotFrame',
	beforeDatasetsDraw: function (chart) {
		const ctx = chart.ctx;
		const area = chart.chartArea;
		const x = chart.scales.x;
		const y0 = chart.scales.y.getPixelForValue(0);
		ctx.save();
		ctx.strokeStyle = '#000';
		ctx.lineWidth = 2.5;
		ctx.beginPath();
		ctx.moveTo(area.left, y0);
		ctx.lineTo(area.right, y0);
		ctx.stroke();
		ctx.lineWidth = 1.3;
		for (let i = 10; i < chart.data.labels.length; i += 10) {
			const px = (x.getPixelForValue(i - 1) + x.getPixelForValue(i)) / 2;
			ctx.beginPath();
			ctx.moveTo(px, y0 - 5);
			ctx.lineTo(px, y0);
			ctx.stroke();
		}
		ctx.restore();
	},
	afterDraw: function (chart) {
		const ctx = chart.ctx;
		const area = chart.chartArea;
		ctx.save();
		ctx.strokeStyle = '#000';
		ctx.lineWidth = 1.6;
		ctx.strokeRect(area.left, area.top, area.right - area.left, area.bottom - area.top);
		ctx.restore();
	}
};

function makeChart(id, datasets, tempTicks) {
	const tickFont = { size: 14, weight: 'bold' };
	return new Chart(document.getElementById(id), {
		type: 'line',
		data: { labels: years, datasets: datasets },
		options: {
			responsive: false,
			animation: false,
			layout: { padding: { top: 26, left: 0, right: 0, bottom: 0 } },
			plugins: {
				legend: { display: false },
				tooltip: { enabled: false }
			},
			scales: {
				x: {
					type: 'category',
					offset: true,
					grid: { display: false, drawTicks: false },
					border: { display: false },
					ticks: {
						autoSkip: false, maxRotation: 0, padding: 11, font: tickFont,
						callback: function (v) {
							const yr = this.getLabelForValue(v);
							return yr % 10 === 0 ? String(yr) : '';
						}
					},
					afterFit: function (s) { s.height = 30; }
				},
				y: {
					position: 'left',
					min: doyTicks[0],
					max: doyTicks[1],
					ticks: { stepSize: doyTicks[2], padding: 5, font: tickFont },
					grid: { drawOnChartArea: false, tickLength: 5, color: '#000', lineWidth: 1.3 },
					border: { display: false },
					afterFit: function (s) { s.width = 48; }
				},
				y1: {
					position: 'right',
					reverse: true,
					min: tempTicks[0],
					max: tempTicks[1],
					ticks: {
						stepSize: tempTicks[2], padding: 16, font: tickFont,
						callback: v => (Math.round(v * 10) / 10 + 0).toFixed(1)
					},
					grid: { display: false, drawTicks: false },
					border: { display: false },
					afterFit: function (s) { s.width = 52; }
				}
			}
		},
		plugins: [spreadArrows, plotFrame]
	});
}

function buildLegend(chart, xs, ys) {
	const page = document.getElementById('page');
	chart.data.datasets.forEach(function (ds, k) {
		const item = document.createElement('div');
		item.className = 'leg';
		item.style.left = xs[k % xs.length] + 'px';
		item.style.top = ys[Math.floor(k / xs.length)] + 'px';
		const mark = document.createElement('i');
		mark.style.background = ds.borderColor;
		mark.style.height = ds.isMean ? '3px' : '2px';
		item.appendChild(mark);
		item.appendChild(document.createTextNode(ds.label));
		page.appendChild(item);
	});
}

const chartA = makeChart('chartA', [
	model('Bidabe-GDD', aBidabeGDD, '#5bb4e5'),
	model('Bidabe-Richardson', aBidabeRichardson, '#ed7d31'),
	model('Bidabe-Sigmoid', aBidabeSigmoid, '#a8a8a8', 2.5),
	model('Bidabe-Wang', aBidabeWang, '#ffc000'),
	model('Sigmoid', aSigmoid, '#4472c4'),
	model('Smoothed-GDD', aSmoothedGDD, '#70ad47'),
	model('Smoothed-Sigmoid', aSmoothedSigmoid, '#4f8cc0'),
	model('Smoothed-Wang', aSmoothedWang, '#c0703c'),
	meanLine(aMean),
	tempLine('Temp (Jan-Apr)', aTemp)
], aTempTicks);

const chartB = makeChart('chartB', [
	model('GDD (Tb=7.0ºC)', bGDD7, '#5bb8e8'),
	model('GDD (Tb=0ºC)', bGDD0, '#f4a060'),
	model('Richardson (Tlow=7.0ºC, Thigh=20.8ºC)', bRich7, '#a8a8a8', 2.5),
	model('Richardson (Tlow=5ºC, Thigh=20ºC)', bRich520, '#ffc000'),
	model('Richardson (Tlow=5ºC, Thigh=25ºC)', bRich525, '#2e75d6'),
	model('Sigmoid (d=-0.3, e=14.4)', bSigmoid, '#4cb050'),
	model('Wang (Tm=0ºC, TM=26.5ºC,Topt=21.8ºC)', bWang265, '#3f6e9e'),
	model('Wang (Tm=0ºC, TM=40ºC, Topt=29.3ºC)', bWang40, '#c08050'),
	meanLine(bMean),
	tempLine('Temp (May-Jun)', bTemp)
], bTempTicks);

const chartC = makeChart('chartC', [
	model('GDD (tb=0ºC)', cGDD0, '#5bc0eb'),
	model('Richardson (Tlow=0ºC, Thigh=23.7ºC)', cRich0, '#f4b183'),
	model('Richardson (Tlow=5ºC, Thigh=20ºC)', cRich520, '#a8a8a8', 2.5),
	model('Richardson (Tlow=5ºC, Thigh=25ºC)', cRich525, '#ffc000'),
	model('Sigmoid (d=-0.4, e=14.4)', cSigmoid, '#5b9bd5'),
	model('Wang (Tm=0ºC, TM=40ºC, Topt=26.9ºC)', cWang269, '#70ad47'),
	model('Wang (Tm=0ºC, TM=40ºC, Topt=25ºC)', cWang25, '#264478'),
	model('Wang (Tm=0ºC, TM=43.2ºC, Topt=29.9ºC)', cWang432, '#9e480e'),
	meanLine(cMean),
	tempLine('Temp (Jul-Aug)', cTemp)
], cTempTicks);

buildLegend(chartA, [108, 307, 505, 703, 901], [378, 424]);
buildLegend(chartB, [88, 420, 750], [854, 877, 900, 923]);
buildLegend(chartC, [86, 424, 762], [1342, 1364, 1386, 1408]);
</script>
</body>
</html>
